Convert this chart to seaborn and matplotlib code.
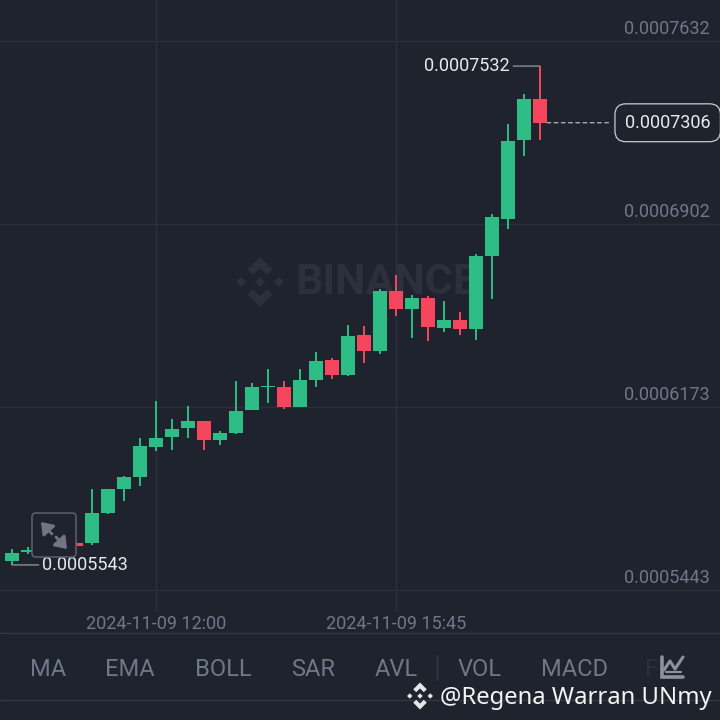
import numpy as np
import pandas as pd
import seaborn as sns
from matplotlib import pyplot as plt
from matplotlib.lines import Line2D
from matplotlib.patches import FancyBboxPatch, Polygon
from matplotlib.transforms import Affine2D, ScaledTranslation

# prices are in units of 1e-7
opens = [5568, 5560, 5594, 5598, 5606, 5630, 5629, 5749, 5844, 5894, 6014, 6053, 6087, 6118, 6041, 6069, 6160,
         6254, 6252, 6174, 6280, 6360, 6300, 6458, 6397, 6634, 6564, 6607, 6488, 6518, 6483, 6774, 6923, 7236, 7402]
closes = [5562, 5592, 5602, 5606, 5614, 5620, 5751, 5847, 5894, 6017, 6049, 6085, 6117, 6041, 6069, 6158, 6253,
          6258, 6172, 6280, 6357, 6300, 6457, 6397, 6634, 6564, 6606, 6490, 6518, 6483, 6774, 6929, 7234, 7402, 7306]
highs = [5570, 5605, 5615, 5612, 5620, 5634, 5845, 5847, 5897, 6048, 6197, 6123, 6176, 6118, 6077, 6275, 6267,
         6323, 6277, 6323, 6392, 6369, 6499, 6494, 6642, 6700, 6620, 6615, 6596, 6552, 6782, 6943, 7301, 7420, 7532]
lows = [5558, 5543, 5586, 5592, 5602, 5618, 5622, 5746, 5799, 5857, 5998, 6001, 6048, 6001, 6022, 6066, 6159,
        6187, 6166, 6174, 6253, 6283, 6296, 6347, 6386, 6535, 6447, 6435, 6471, 6461, 6440, 6602, 6881, 7173, 7237]
candle_idx = np.arange(-1, 34)

price_ticks = [7632, 6902, 6173, 5443]
price_labels = ["0.0007632", "0.0006902", "0.0006173", "0.0005443"]
time_ticks = [9, 24]
time_labels = ["2024-11-09 12:00", "2024-11-09 15:45"]
tab_names = ["MA", "EMA", "BOLL", "SAR", "AVL", "VOL", "MACD"]
tab_x = [48, 130, 223, 313, 396, 480, 574.5]

BG = "#1e232d"
GREEN = "#2ebd85"
RED = "#f6465d"
GRID = "#2b303b"
MUTED = "#6f7888"
LIGHT = "#e8eaed"

sns.set_theme(style="dark", rc={"axes.facecolor": BG, "figure.facecolor": BG})
plt.rcParams["font.family"] = ["Roboto", "DejaVu Sans"]

candles = pd.DataFrame({"idx": candle_idx, "open": opens, "close": closes, "high": highs, "low": lows})
candles["dir"] = np.where(candles["close"] >= candles["open"], "up", "down")
palette = {"up": GREEN, "down": RED}

wicks = candles.melt(id_vars=["idx", "dir"], value_vars=["high", "low"], value_name="price")
bodies = candles.melt(id_vars=["idx", "dir"], value_vars=["open", "close"], value_name="price")

f = plt.figure(figsize=(7.2, 7.2), dpi=100)
ax = f.add_axes([0, 1 - 612 / 720, 1, 612 / 720])
px = Affine2D().scale(1 / 720, -1 / 720).translate(0, 1) + f.transFigure


def binance_logo(cx, cy, r, color, target, zorder):
    chevron = np.array([[0, -1], [.5, -.5], [.28, -.28], [0, -.56], [-.28, -.28], [-.5, -.5]])
    diamond = np.array([[0, -.2], [.2, 0], [0, .2], [-.2, 0]])
    shapes = [chevron, chevron * [1, -1], diamond, diamond + [-.76, 0], diamond + [.76, 0]]
    for s in shapes:
        target.add_artist(Polygon(s * r + [cx, cy], closed=True, fc=color, ec="none", transform=px, zorder=zorder))


# watermark sits under the candles
binance_logo(260, 282, 25, "#2b303b", ax, 0.5)
ax.text(386, 282, "BINANCE", transform=px, ha="center", va="center", fontsize=31, fontweight="bold",
        color="#2b303b", zorder=0.5)

sns.lineplot(data=wicks, x="idx", y="price", hue="dir", units="idx", estimator=None, palette=palette,
             legend=False, lw=1.4, solid_capstyle="butt", zorder=2, ax=ax)
sns.lineplot(data=bodies, x="idx", y="price", hue="dir", units="idx", estimator=None, palette=palette,
             legend=False, lw=10.1, solid_capstyle="butt", zorder=3, ax=ax)

ax.set_xlim(-0.75, 44.25)
ax.set_ylim(5355.3, 7795.5)
ax.set_xlabel("")
ax.set_ylabel("")
ax.set_xticks(time_ticks, labels=time_labels)
ax.set_yticks(price_ticks, labels=price_labels)
ax.grid(True, color=GRID, lw=1)
ax.set_axisbelow(True)
sns.despine(ax=ax, left=True, bottom=True)
ax.tick_params(axis="x", length=0, pad=2, labelsize=13, labelcolor=MUTED)
ax.tick_params(axis="y", length=0, pad=-7.2, labelsize=13, labelcolor=MUTED, left=False, labelleft=False,
               labelright=True)
for lab in ax.get_yticklabels():
    lab.set_ha("right")
    lab.set_va("bottom")
    lab.set_transform(lab.get_transform() + ScaledTranslation(0, 2 / 72, f.dpi_scale_trans))

# high / low / last callouts
ax.annotate("0.0007532", xy=(candle_idx[-1], highs[-1]), xytext=(-30, 0), textcoords="offset pixels",
            ha="right", va="center", fontsize=13, color=LIGHT, zorder=6,
            arrowprops=dict(arrowstyle="-", color="#8b8f97", lw=1, shrinkA=0, shrinkB=0))
ax.annotate("0.0005543", xy=(candle_idx[1], lows[1]), xytext=(30, 0), textcoords="offset pixels",
            ha="left", va="center", fontsize=13, color=LIGHT, zorder=6,
            arrowprops=dict(arrowstyle="-", color="#8b8f97", lw=1, shrinkA=0, shrinkB=0))
ax.annotate("0.0007306", xy=(candle_idx[-1] + 0.45, closes[-1]), xytext=(120.5, 0), textcoords="offset pixels",
            ha="center", va="center", fontsize=13, color=LIGHT, zorder=6,
            bbox=dict(boxstyle="round,pad=0.55,rounding_size=0.6", fc=BG, ec="#c9ccd1", lw=0.9),
            arrowprops=dict(arrowstyle="-", color="#c9ccd1", lw=0.8, ls=(0, (3.5, 3)), shrinkA=4.3, shrinkB=0))

# expand button over the chart
ax.add_patch(FancyBboxPatch((35, 516), 38, 38, boxstyle="round,pad=3,rounding_size=4", transform=px,
                            fc=BG, ec="#5b616d", lw=1.1, zorder=7, clip_on=False))
for start, end in [((52, 534), (41, 522)), ((56, 537), (67, 549))]:
    ax.annotate("", xy=end, xytext=start, xycoords=px, textcoords=px, zorder=8,
                arrowprops=dict(arrowstyle="-|>,head_length=0.55,head_width=0.4", color="#6f7683", lw=2,
                                shrinkA=0, shrinkB=0))

# footer panel
for y in [633, 700]:
    f.add_artist(Line2D([0, 720], [y, y], transform=px, color="#333844", lw=1))
f.add_artist(Line2D([437, 437], [655, 680], transform=px, color="#333844", lw=1))
for name, x in zip(tab_names, tab_x):
    f.text(x, 670, name, transform=px, ha="center", va="center", fontsize=17, color=MUTED)
f.text(652, 670, "F", transform=px, ha="center", va="center", fontsize=17, color="#2b303b")
f.add_artist(Line2D([662, 662, 683], [657, 677, 677], transform=px, color="#8a92a0", lw=2.6, solid_joinstyle="miter"))
f.add_artist(Line2D([664, 670, 675, 683], [670, 661, 669, 657], transform=px, color="#8a92a0", lw=2.2))
f.add_artist(Line2D([666, 681], [672, 672], transform=px, color="#8a92a0", lw=1.6))

binance_logo(420, 696, 13.5, "#e6e6e6", f, 9)
f.text(712, 698, "@Regena Warran UNmy", transform=px, ha="right", va="center", fontsize=17.2, color="#f4f4f4",
       family=["Noto Sans", "DejaVu Sans"], zorder=9)

f.savefig("out.png", dpi=100, facecolor=BG)
